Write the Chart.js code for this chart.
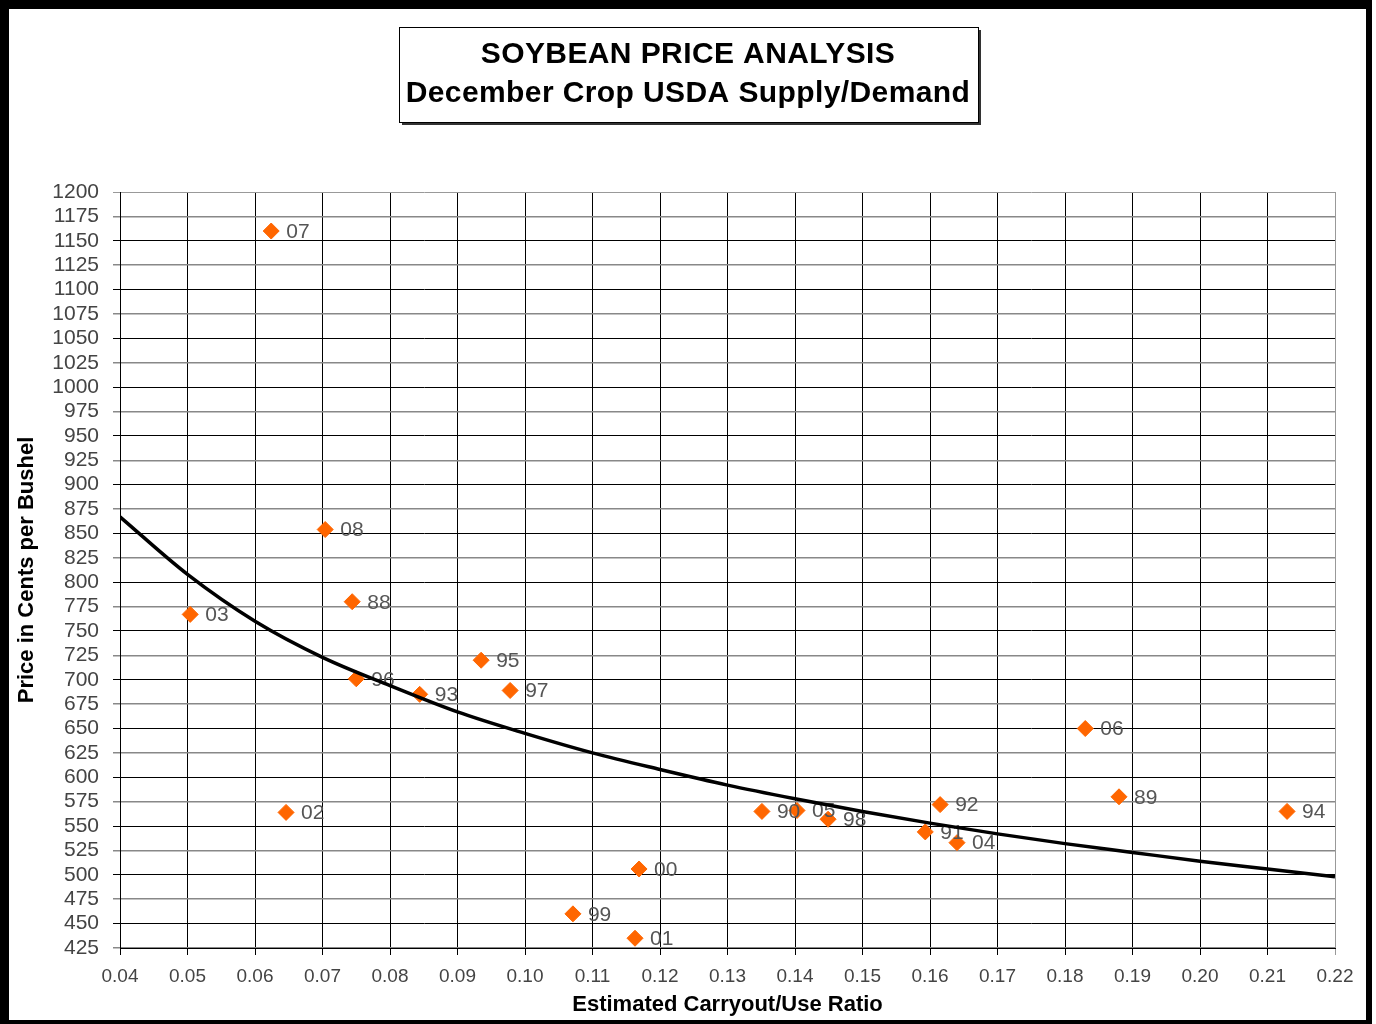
<!DOCTYPE html>
<html>
<head>
<meta charset="utf-8">
<title>Soybean Price Analysis</title>
<script src="https://cdn.jsdelivr.net/npm/chart.js@4.4.1/dist/chart.umd.min.js"></script>
<style>
    html, body { margin: 0; padding: 0; background: #fff; }
    #wrap { width: 1376px; height: 1024px; }
</style>
</head>
<body>
<div id="wrap"><canvas id="soyChart" width="1376" height="1024"></canvas></div>
<script>
// crop years (labels next to each diamond)
const years = ['07', '08', '88', '03', '95', '96', '93', '97', '06', '89', '94', '02',
               '90', '05', '98', '92', '91', '04', '00', '99', '01'];
// estimated carryout/use ratio
const ratios = [0.0624, 0.0704, 0.0744, 0.0504, 0.0935, 0.0750, 0.0844, 0.0978, 0.1830, 0.1880, 0.2129, 0.0646,
                0.1351, 0.1403, 0.1449, 0.1615, 0.1593, 0.1640, 0.1169, 0.1071, 0.1163];
// price in cents per bushel
const prices = [1160, 854, 780, 767, 720, 701, 685, 689, 650, 580, 565, 564,
                565, 566, 557, 572, 544, 533, 506, 460, 435];

// trend curve at each x tick
const trendX = [0.04, 0.05, 0.06, 0.07, 0.08, 0.09, 0.10, 0.11, 0.12, 0.13,
                0.14, 0.15, 0.16, 0.17, 0.18, 0.19, 0.20, 0.21, 0.22];
const trendY = [867, 808, 760, 723, 694, 667, 645, 625, 608, 592,
                578, 565, 553, 542, 532, 523, 514, 506, 498];

const titleLines = ['SOYBEAN PRICE ANALYSIS', 'December Crop USDA Supply/Demand'];

const FONT = "'Liberation Sans', Arial, sans-serif";

// outer black frame
const framePlugin = {
    id: 'frame',
    beforeDraw(chart) {
        const ctx = chart.ctx;
        ctx.save();
        ctx.fillStyle = '#fff';
        ctx.fillRect(0, 0, chart.width, chart.height);
        ctx.fillStyle = '#000';
        ctx.fillRect(0, 0, 1372, 1024);
        ctx.fillStyle = '#fff';
        ctx.fillRect(9, 9, 1357, 1011);
        ctx.restore();
    }
};

// boxed two-line title
const titleBoxPlugin = {
    id: 'titleBox',
    afterDraw(chart, args, opts) {
        const ctx = chart.ctx;
        const lines = opts.lines || [];
        ctx.save();
        ctx.font = 'bold 30px ' + FONT;
        ctx.letterSpacing = '0.4px';
        let w = 0;
        lines.forEach(l => { w = Math.max(w, ctx.measureText(l).width); });
        const cx = opts.centerX;
        const left = Math.round(cx - w / 2 - 7);
        const top = opts.top;
        const bw = Math.round(w + 14);
        const bh = opts.height;
        // shadow
        ctx.fillStyle = '#333';
        ctx.fillRect(left + 3, top + 3, bw, bh);
        ctx.fillStyle = '#fff';
        ctx.fillRect(left, top, bw, bh);
        ctx.strokeStyle = '#000';
        ctx.lineWidth = 1;
        ctx.strokeRect(left + 0.5, top + 0.5, bw, bh);
        ctx.fillStyle = '#000';
        ctx.textAlign = 'center';
        ctx.textBaseline = 'middle';
        lines.forEach((l, i) => {
            ctx.fillText(l, cx, top + 28 + i * 39);
        });
        ctx.restore();
    }
};

// year labels beside the diamonds, drawn before the trend line
const yearLabelPlugin = {
    id: 'yearLabels',
    afterDatasetDraw(chart, args) {
        if (args.index !== 1) return;
        const ctx = chart.ctx;
        const meta = args.meta;
        ctx.save();
        ctx.font = '21px ' + FONT;
        ctx.fillStyle = '#555';
        ctx.textAlign = 'left';
        ctx.textBaseline = 'middle';
        meta.data.forEach((pt, i) => {
            ctx.fillText(years[i], pt.x + 15, pt.y + 1);
        });
        ctx.restore();
    }
};

const scatterData = ratios.map((r, i) => ({ x: r, y: prices[i] }));
const trendData = trendX.map((r, i) => ({ x: r, y: trendY[i] }));

const ctx = document.getElementById('soyChart').getContext('2d');
const soyChart = new Chart(ctx, {
    type: 'scatter',
    data: {
        datasets: [
            {
                label: 'Trend',
                type: 'line',
                data: trendData,
                borderColor: '#000',
                borderWidth: 3.5,
                pointRadius: 0,
                fill: false,
                cubicInterpolationMode: 'monotone',
                order: 0
            },
            {
                label: 'Crop year',
                data: scatterData,
                pointStyle: 'rectRot',
                pointRadius: 8,
                pointHoverRadius: 8,
                backgroundColor: '#ff6600',
                borderColor: '#ff6600',
                borderWidth: 1,
                order: 1
            }
        ]
    },
    options: {
        responsive: false,
        animation: false,
        layout: {
            padding: { top: 192, left: 12, right: 41, bottom: 4 }
        },
        plugins: {
            legend: { display: false },
            tooltip: { enabled: false },
            title: { display: false },
            titleBox: { lines: titleLines, centerX: 688, top: 27, height: 95 }
        },
        scales: {
            x: {
                type: 'linear',
                min: 0.04,
                max: 0.22,
                ticks: {
                    stepSize: 0.01,
                    autoSkip: false,
                    maxRotation: 0,
                    padding: 10,
                    color: '#444',
                    font: { family: FONT, size: 19 },
                    callback: v => v.toFixed(2)
                },
                grid: {
                    color: c => (c.tick && c.tick.value >= 0.2199) ? '#999' : '#000',
                    lineWidth: 1,
                    tickLength: 7
                },
                border: { color: '#000', width: 1 },
                title: {
                    display: true,
                    text: 'Estimated Carryout/Use Ratio',
                    color: '#000',
                    font: { family: FONT, size: 22, weight: 'bold' },
                    padding: { top: 0, bottom: 2 }
                },
                afterFit(scale) { scale.height = 72; }
            },
            y: {
                type: 'linear',
                min: 425,
                max: 1200,
                ticks: {
                    stepSize: 25,
                    autoSkip: false,
                    padding: 14,
                    color: '#444',
                    font: { family: FONT, size: 21 },
                    callback: v => String(v)
                },
                grid: {
                    color: c => {
                        if (!c.tick) return '#000';
                        if (c.tick.value === 1200) return '#999';
                        return c.tick.value % 50 === 0 ? '#000' : '#888';
                    },
                    lineWidth: c => (c.tick && c.tick.value % 50 !== 0) ? 1.5 : 1,
                    tickLength: 7
                },
                border: { color: '#000', width: 1 },
                title: {
                    display: true,
                    text: 'Price in Cents per Bushel',
                    color: '#000',
                    font: { family: FONT, size: 22, weight: 'bold' },
                    padding: { top: 2, bottom: 0 }
                },
                afterFit(scale) { scale.width = 108; }
            }
        }
    },
    plugins: [framePlugin, yearLabelPlugin, titleBoxPlugin]
});
</script>
</body>
</html>
